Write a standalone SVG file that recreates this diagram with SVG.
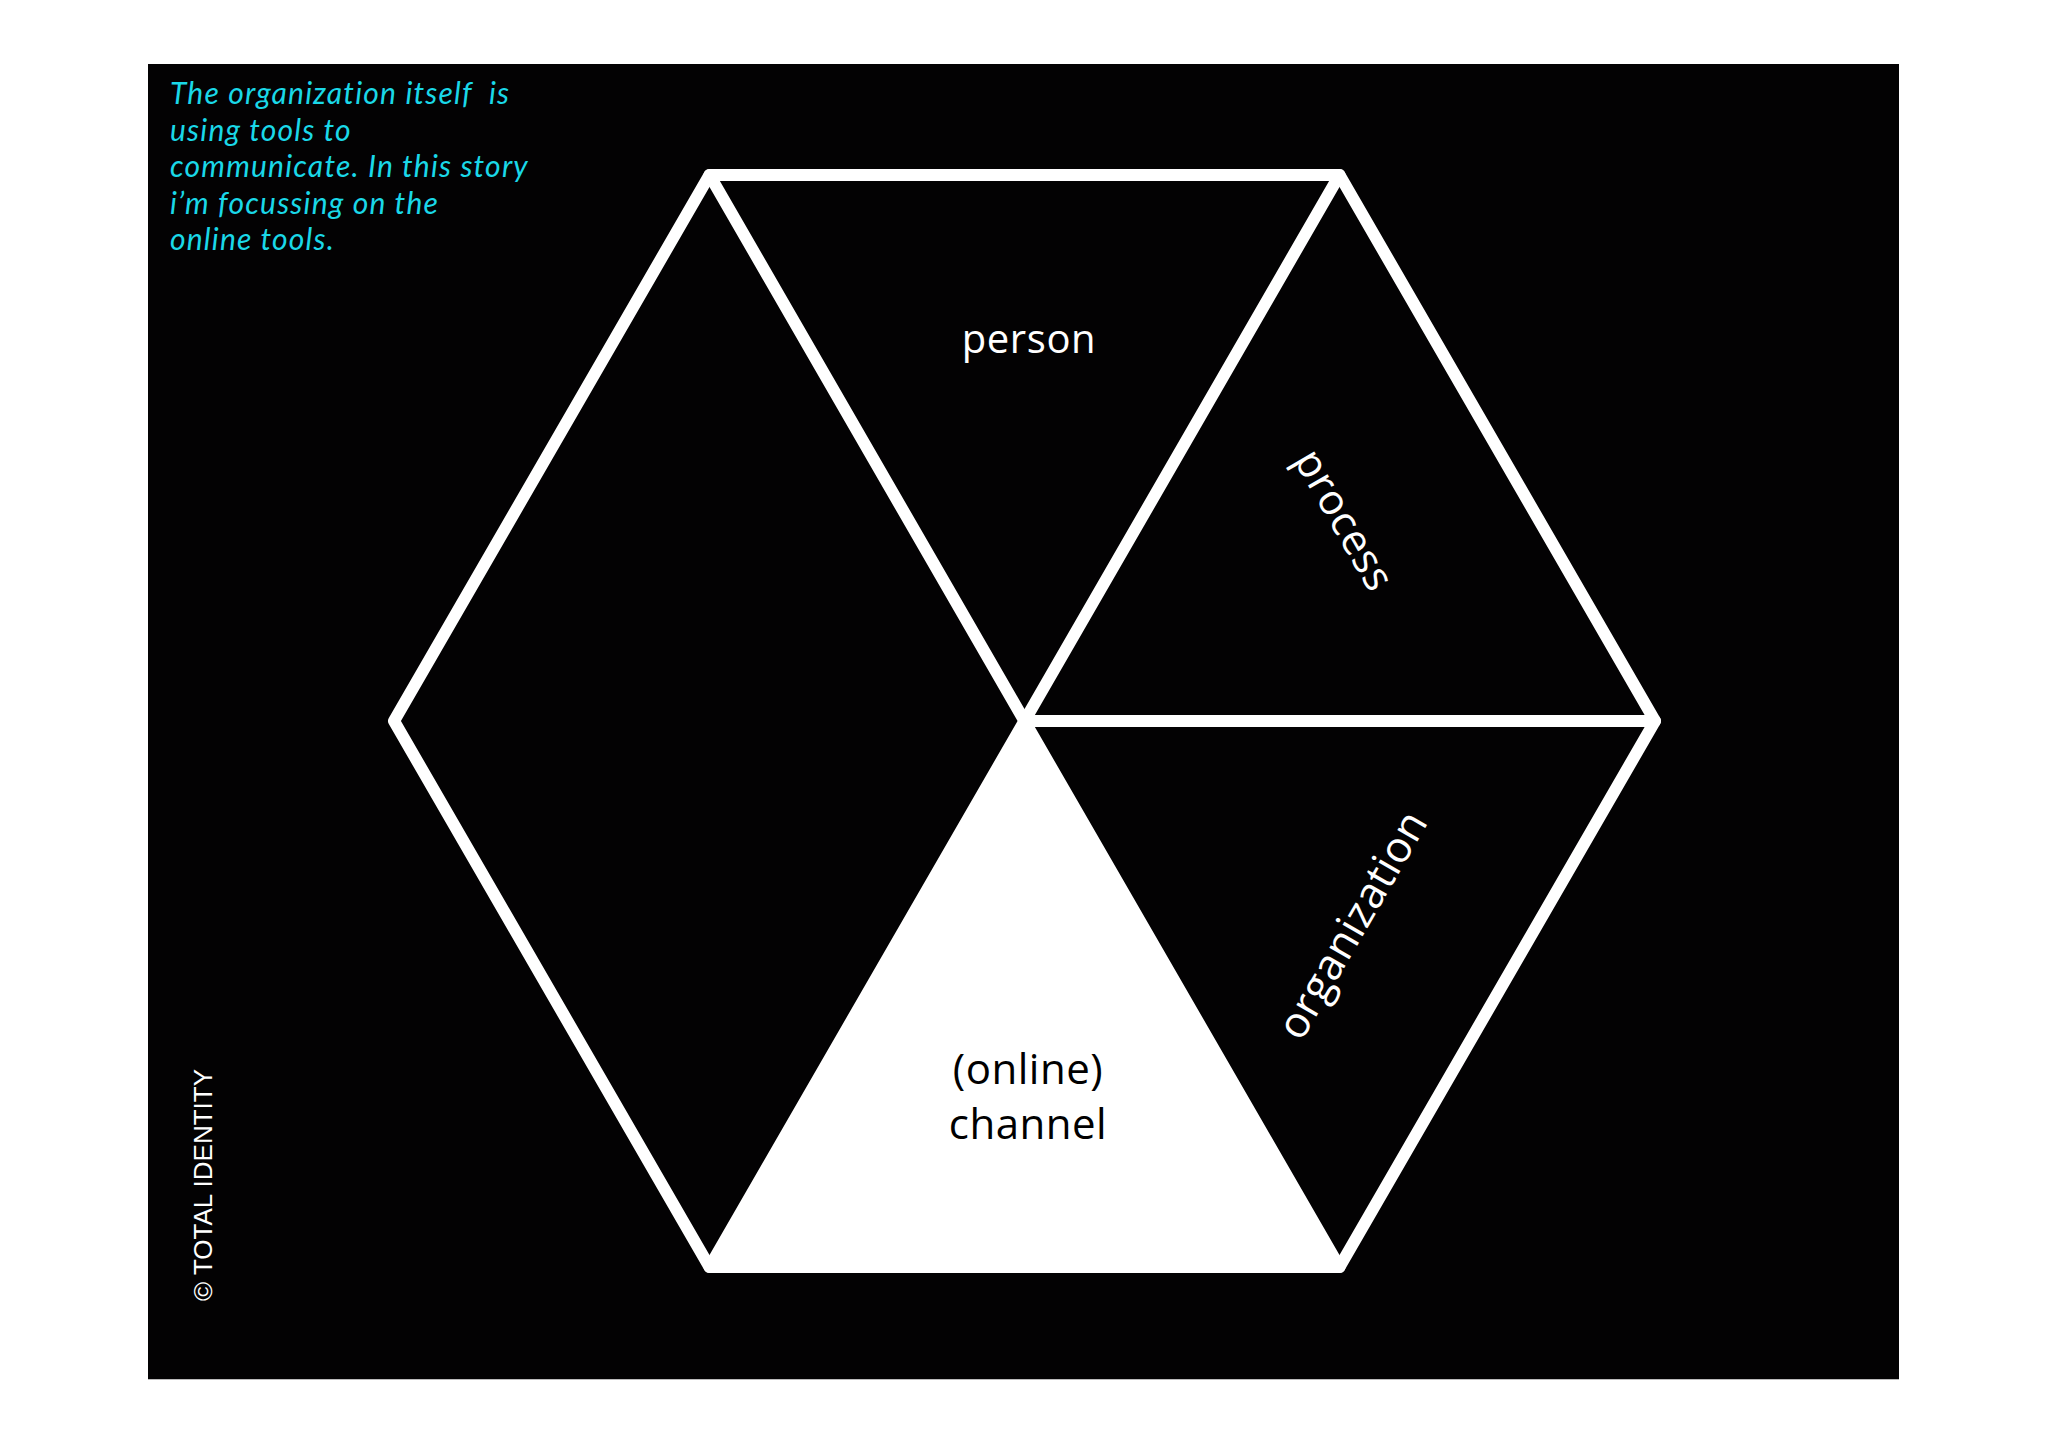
<svg xmlns="http://www.w3.org/2000/svg" width="2048" height="1447" viewBox="0 0 2048 1447">
<style>
.edge{stroke:#fff;stroke-width:12;stroke-linejoin:round;stroke-linecap:round;fill:none}
.lbl{font-family:"Open Sans","Noto Sans",sans-serif;font-size:40px;fill:#fff;text-anchor:middle}
.note{font-family:Lato,"Open Sans",sans-serif;font-style:italic;font-size:30px;letter-spacing:1.2px;fill:#1ad8e8;white-space:pre}
</style>
<rect x="0" y="0" width="2048" height="1447" fill="#fff"/>
<rect x="148" y="64" width="1751" height="1315" fill="#030203"/>
<line x1="148" y1="1379.5" x2="1899" y2="1379.5" stroke="#bbb" stroke-width="1"/>
<g id="note">
<text class="note" xml:space="preserve"><tspan x="170" y="104">The organization itself  is</tspan><tspan x="170" y="140.5">using tools to</tspan><tspan x="170" y="177">communicate. In this story</tspan><tspan x="170" y="213.5">i’m focussing on the</tspan><tspan x="170" y="250">online tools.</tspan></text>
</g>
<g id="connectors">
<polyline class="edge" points="709.5,175 1339.5,175 1655,721 1339.5,1267 709.5,1267 394,721 709.5,175"/>
<line class="edge" x1="709.5" y1="175" x2="1024.5" y2="721"/>
<line class="edge" x1="1339.5" y1="175" x2="1024.5" y2="721"/>
<line class="edge" x1="1024.5" y1="721" x2="1655" y2="721"/>
</g>
<g id="channel">
<polygon points="1024.5,721 1339.5,1267 709.5,1267" fill="#fff" stroke="#fff" stroke-width="12" stroke-linejoin="round"/>
<text class="lbl" style="fill:#000;font-size:42px;letter-spacing:0.5px"><tspan x="1028" y="1084">(online)</tspan><tspan x="1028" y="1139">channel</tspan></text>
</g>
<g id="person">
<text class="lbl" x="1029" y="353" style="letter-spacing:0.6px">person</text>
</g>
<g id="process">
<text class="lbl" transform="translate(1344,520) rotate(60)" y="14" style="font-size:42px;letter-spacing:0.5px">process</text>
</g>
<g id="organization">
<text class="lbl" transform="translate(1353,925) rotate(-60)" y="14" style="font-size:43px;letter-spacing:0.4px">organization</text>
</g>
<g id="copyright">
<text transform="translate(212,1185) rotate(-90)" font-family="Liberation Sans, Arial, sans-serif" font-size="26" fill="#fff" text-anchor="middle">© TOTAL IDENTITY</text>
</g>
</svg>
